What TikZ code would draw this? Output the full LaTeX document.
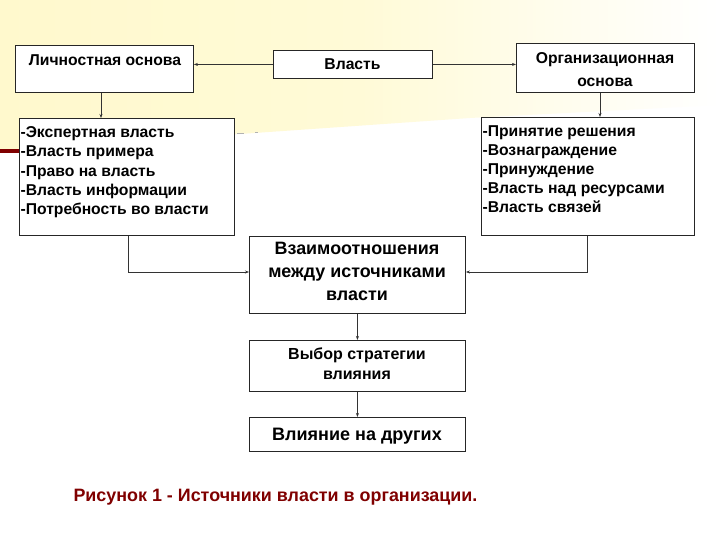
\documentclass[tikz,border=0pt]{standalone}
\usepackage{fontspec}
\setmainfont{Liberation Sans}
\usetikzlibrary{arrows.meta}
\definecolor{capred}{RGB}{128,0,0}
\definecolor{bgyel}{RGB}{255,249,205}
\begin{document}
\begin{tikzpicture}[x=1pt,y=-1pt,
  box/.style={draw=black!85,line width=0.9pt,fill=white,inner sep=2pt},
  conn/.style={draw=black!80,line width=0.8pt,-{Stealth[length=4pt,width=3pt]}},
  txt/.style={font=\bfseries\fontsize{15.7}{19.3}\selectfont}]
\useasboundingbox (0,0) rectangle (720,540);
% background
\fill[white] (0,0) rectangle (720,540);
\shade[left color=bgyel,right color=white,middle color=bgyel!80]
  (0,0) -- (720,0) -- (720,105) -- (470,118) -- (240,134) -- (0,150) -- cycle;
\draw[capred,line width=3.5pt] (0,151) -- (20,151);
\draw[gray!60,line width=0.7pt] (237,133) -- (244,133) (255,132.5) -- (258,132.5);
% boxes
\node[box,minimum width=178pt,minimum height=47pt,anchor=north west] (lich) at (15,45) {};
\node[txt] at (105,60) {Личностная основа};
\node[box,minimum width=159pt,minimum height=28pt,anchor=north west] (vl) at (273,50) {};
\node[txt] at (352.5,64.5) {Власть};
\node[box,minimum width=178pt,minimum height=49pt,anchor=north west] (org) at (516,43) {};
\node[txt,align=center,font=\bfseries\fontsize{15.7}{23}\selectfont] at (605,70) {Организационная\\основа};
\node[box,minimum width=215pt,minimum height=117pt,anchor=north west] (ll) at (19,118) {};
\node[txt,align=left,anchor=north west] at (17,123) {-Экспертная власть\\-Власть примера\\-Право на власть\\-Власть информации\\-Потребность во власти};
\node[box,minimum width=213pt,minimum height=118pt,anchor=north west] (rl) at (481,117) {};
\node[txt,align=left,anchor=north west,font=\bfseries\fontsize{15.7}{19.1}\selectfont] at (479,122) {-Принятие решения\\-Вознаграждение\\-Принуждение\\-Власть над ресурсами\\-Власть связей};
\node[box,minimum width=216pt,minimum height=77pt,anchor=north west] (rel) at (249,236) {};
\node[txt,align=center,font=\bfseries\fontsize{17.9}{23}\selectfont] at (357,271.5) {Взаимоотношения\\между источниками\\власти};
\node[box,minimum width=216pt,minimum height=51pt,anchor=north west] (vyb) at (249,340) {};
\node[txt,align=center,font=\bfseries\fontsize{16}{20}\selectfont] at (357,364) {Выбор стратегии\\влияния};
\node[box,minimum width=216pt,minimum height=34pt,anchor=north west] (vli) at (249,417) {};
\node[txt,font=\bfseries\fontsize{18}{20}\selectfont] at (357,436) {Влияние на других};
\node[txt,text=capred,anchor=west,font=\bfseries\fontsize{17.9}{20}\selectfont] (cap) at (70,497) {Рисунок 1 - Источники власти в организации.};
% connectors
\draw[conn] (vl.west) -- (lich.east |- vl.west);
\draw[conn] (vl.east) -- (org.west |- vl.east);
\draw[conn] (lich.south -| 101,0) -- (ll.north -| 101,0);
\draw[conn] (org.south -| 600,0) -- (rl.north -| 600,0);
\draw[conn] (ll.south -| 128,0) |- (rel.west |- 0,272);
\draw[conn] (rl.south -| 587,0) |- (rel.east |- 0,272);
\draw[conn] (rel.south) -- (vyb.north);
\draw[conn] (vyb.south) -- (vli.north);
\end{tikzpicture}
\end{document}
